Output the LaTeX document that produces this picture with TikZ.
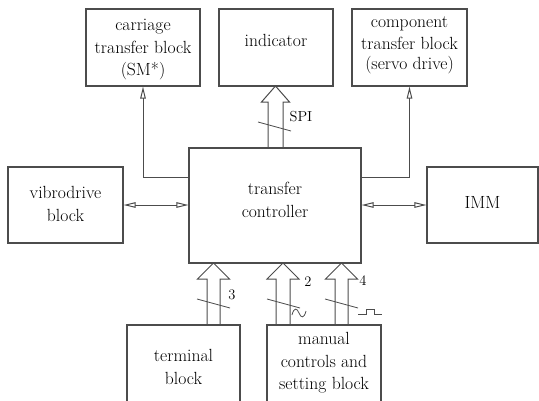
\documentclass[tikz,border=0pt]{standalone}
\usetikzlibrary{arrows.meta,calc}
\newcommand\busarrow[4]{% apex, bottom, half gap, half head
  \draw[conn] ($(#2)+(-#3,0)$) -- ($(#1)+(-#3,16)$) -- ($(#1)+(-#4,16)$) -- (#1)
    -- ($(#1)+(#4,16)$) -- ($(#1)+(#3,16)$) -- ($(#2)+(#3,0)$);}
\begin{document}
\begin{tikzpicture}[x=1pt,y=-1pt,
  box/.style={draw=black!70, line width=1.1pt, rectangle, inner sep=0pt},
  txt/.style={font=\fontsize{17.6}{22.5}\selectfont, align=center, text=black, inner sep=0pt},
  lab/.style={font=\fontsize{14.5}{17}\selectfont, text=black, inner sep=0pt},
  conn/.style={draw=black!70, line width=1pt},
  thin/.style={draw=black!70, line width=0.8pt},
  tip/.style={-{Triangle[open,length=12pt,width=5.5pt]}},
  dtip/.style={{Triangle[open,length=12pt,width=5.5pt]}-{Triangle[open,length=12pt,width=5.5pt]}}
]
\useasboundingbox (0,0) rectangle (539,400);
\clip (0,0) rectangle (539,400);
% boxes
\node[box, minimum width=114pt, minimum height=77pt] (carr) at (143,47.5) {};
\node[box, minimum width=114pt, minimum height=77pt] (ind) at (276,47.5) {};
\node[box, minimum width=115pt, minimum height=77pt] (comp) at (409.5,47.5) {};
\node[box, minimum width=115pt, minimum height=76pt] (vib) at (65.5,205) {};
\node[box, minimum width=172pt, minimum height=115pt] (ctrl) at (275,205.5) {};
\node[box, minimum width=111pt, minimum height=76pt] (imm) at (482.5,205) {};
\node[box, minimum width=113pt, minimum height=78pt] (term) at (183.5,364) {};
\node[box, minimum width=114pt, minimum height=78pt] (man) at (324,364) {};
% texts
\node[txt] (carrT) at (143,50) {carriage\\transfer block\\(SM*)};
\node[txt] (indT) at (276,40) {indicator};
\node[txt] (compT) at (409.5,45) {component\\transfer block\\[-3pt](servo drive)};
\node[txt] (vibT) at (65.5,204) {vibrodrive\\block};
\node[txt] (ctrlT) at (275,200) {transfer\\controller};
\node[txt] (immT) at (482.5,202) {IMM};
\node[txt] (termT) at (183.5,367) {terminal\\block};
\node[txt] (manT) at (324,363) {manual\\controls and\\setting block};
% thin connectors
\coordinate (cl) at (189,177);
\coordinate (cr) at (361,177);
\draw[conn, tip] (cl) -| (carr.south);
\draw[conn, tip] (cr) -| (comp.south);
\draw[conn, dtip] (vib.east) -- (ctrl.west |- vib.east);
\draw[conn, dtip] (ctrl.east |- imm.west) -- (imm.west);
% bus arrows
\coordinate (s1) at (275.5,86);  \coordinate (s2) at (275.5,148);
\busarrow{s1}{s2}{7.5}{14}
\draw[thin] (258,122) -- (291,131);
\node[lab] (spi) at (301,117) {SPI};
\coordinate (t1) at (213.5,263); \coordinate (t2) at (213.5,325);
\busarrow{t1}{t2}{6.5}{16}
\draw[thin] (197,299) -- (230,308);
\node[lab] (n3) at (232,295) {3};
\coordinate (m1) at (283,263); \coordinate (m2) at (283,325);
\busarrow{m1}{m2}{7}{16}
\draw[thin] (267,299) -- (300,308);
\node[lab] (n2) at (308,282) {2};
\draw[thin] (292,315) .. controls (294,307) and (297,308) .. (299,313) .. controls (301,318) and (304,319) .. (306,311);
\coordinate (k1) at (341.5,263); \coordinate (k2) at (341.5,325);
\busarrow{k1}{k2}{6.5}{16}
\draw[thin] (325,299) -- (358,308);
\node[lab] (n4) at (363,281) {4};
\draw[thin] (358,314) -- (366,314) -- (366,309) -- (374,309) -- (374,314) -- (382,314);
\end{tikzpicture}
\end{document}
